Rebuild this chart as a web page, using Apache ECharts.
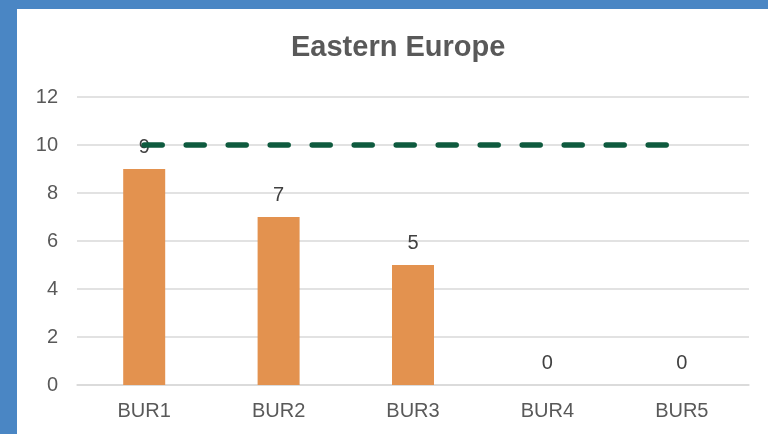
<!DOCTYPE html>
<html>
<head>
<meta charset="utf-8">
<script src="https://cdn.jsdelivr.net/npm/echarts@6/dist/echarts.min.js"></script>
<style>
  html, body { margin: 0; padding: 0; width: 768px; height: 434px; overflow: hidden; }
  body { background: #4a86c4; position: relative; }
  #chart { position: absolute; left: 17px; top: 9px; width: 751px; height: 425px; background: #ffffff; }
</style>
</head>
<body>
<div id="chart"></div>
<script>
// chart data
const categories = ["BUR1", "BUR2", "BUR3", "BUR4", "BUR5"];
const values = [9, 7, 5, 0, 0];
const target = [10, 10, 10, 10, 10];
const yTicks = { min: 0, max: 12, interval: 2 };

const chart = echarts.init(document.getElementById("chart"));

const option = {
  animation: false,
  title: {
    text: "Eastern Europe",
    left: 274,
    top: 24,
    padding: 0,
    textStyle: {
      fontFamily: "Liberation Sans, Arial, sans-serif",
      fontSize: 29,
      fontWeight: "bold",
      color: "#595959",
    },
  },
  grid: { left: 60, right: 19, top: 88, bottom: 49 },
  xAxis: {
    type: "category",
    data: categories,
    axisLine: { lineStyle: { color: "#d9d9d9", width: 1.5 } },
    axisTick: { show: false },
    axisLabel: {
      color: "#595959",
      fontSize: 20,
      fontFamily: "Liberation Sans, Arial, sans-serif",
      margin: 16,
    },
  },
  yAxis: {
    type: "value",
    min: yTicks.min,
    max: yTicks.max,
    interval: yTicks.interval,
    axisLine: { show: false },
    axisTick: { show: false },
    splitLine: { lineStyle: { color: "#d9d9d9", width: 1.5 } },
    axisLabel: {
      color: "#595959",
      fontSize: 20,
      fontFamily: "Liberation Sans, Arial, sans-serif",
      margin: 19,
    },
  },
  series: [
    {
      name: "Target",
      type: "line",
      data: target,
      symbol: "none",
      lineStyle: {
        color: "#0e5a3e",
        width: 5.5,
        type: [18, 24],
        cap: "round",
      },
    },
    {
      name: "Value",
      type: "bar",
      data: values,
      barWidth: 42,
      itemStyle: { color: "#e3924f" },
      label: {
        show: true,
        position: "top",
        distance: 12,
        color: "#404040",
        fontSize: 20,
        fontFamily: "Liberation Sans, Arial, sans-serif",
      },
    },
  ],
};

chart.setOption(option);
</script>
</body>
</html>
